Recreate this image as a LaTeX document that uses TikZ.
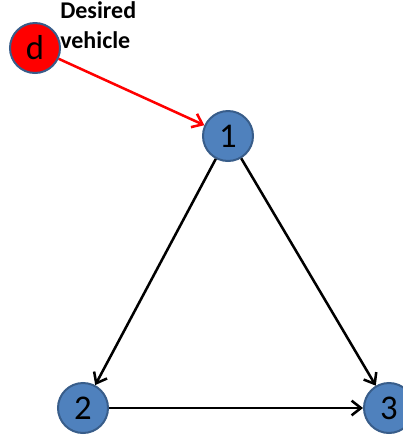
\documentclass[tikz,border=0pt]{standalone}
\usepackage{fontspec}
\setmainfont{Carlito}
\usetikzlibrary{arrows.meta}
\definecolor{nodeblue}{HTML}{4F81BD}
\definecolor{rimblue}{HTML}{385D8A}
\begin{document}
\begin{tikzpicture}[x=0.75pt,y=-0.75pt,
  vertex/.style={circle,draw=rimblue,line width=1.5pt,fill=nodeblue,
    minimum size=37.5pt,inner sep=0pt,font=\fontsize{26}{26}\selectfont},
  edge/.style={line width=1.9pt,-{Straight Barb[length=7pt,width=11pt,line width=1.9pt]}}]
\useasboundingbox (0,0) rectangle (403,437);
\node[vertex,fill=red] (d) at (35,48) {d};
\node[vertex] (n1) at (228,136) {1};
\node[vertex] (n2) at (83,408) {2};
\node[vertex] (n3) at (389,408) {3};
% two-line caption; base anchor sits on the baseline of its last line
\node[anchor=base west,align=left,inner sep=0pt,
  font=\fontsize{18}{22.5}\selectfont\bfseries] (lbl) at (60,48) {Desired\\vehicle};
\draw[edge,red] (d) -- (n1);
\draw[edge] (n1) -- (n2);
\draw[edge] (n1) -- (n3);
\draw[edge] (n2) -- (n3);
\end{tikzpicture}
\end{document}
